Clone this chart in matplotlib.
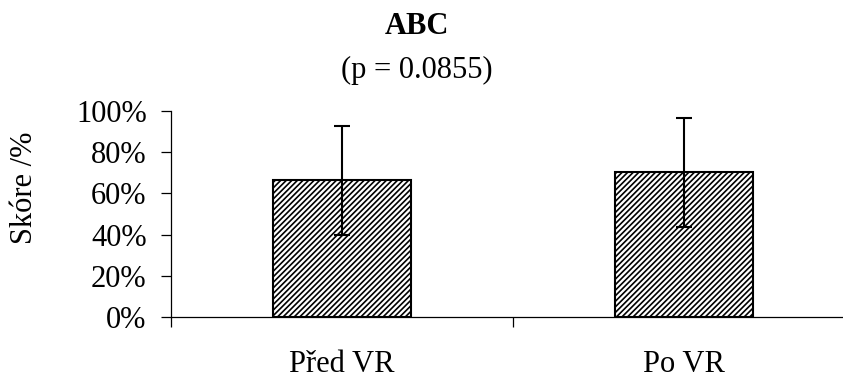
import matplotlib.pyplot as plt
import numpy as np
from matplotlib.ticker import PercentFormatter, FixedLocator

# Data
categories = ["Před VR", "Po VR"]
values = [66.3, 70.2]
errors = [26.5, 26.3]
yticks = [0, 20, 40, 60, 80, 100]

plt.rcParams['font.family'] = ['Liberation Serif', 'DejaVu Serif']
plt.rcParams['hatch.linewidth'] = 1.2

fig = plt.figure(figsize=(8.43, 3.79), dpi=100)
ax = fig.add_axes([171/843, 62/379, 684/843, 206/379])

x = np.arange(len(categories))
ax.bar(x, values, width=0.405, color='white', edgecolor='black',
       linewidth=1.5, hatch='//////')
ax.errorbar(x, values, yerr=errors, fmt='none', ecolor='black',
            elinewidth=1.5, capsize=5.5, capthick=1.5)

ax.set_xlim(-0.5, len(categories) - 0.5)
ax.set_ylim(0, 100)
ax.set_yticks(yticks)
ax.yaxis.set_major_formatter(PercentFormatter(decimals=0))
ax.set_xticks(x)
ax.set_xticklabels(categories)
ax.xaxis.set_minor_locator(FixedLocator(np.arange(-0.5, len(categories), 1.0)))

ax.tick_params(axis='x', which='major', length=0, pad=24, labelsize=22)
ax.tick_params(axis='x', which='minor', length=7, width=0.9, direction='out')
ax.tick_params(axis='y', length=7, width=0.9, labelsize=22, pad=10.5)

for side in ['top', 'right']:
    ax.spines[side].set_visible(False)
ax.spines['left'].set_linewidth(0.9)
ax.spines['bottom'].set_linewidth(0.9)

# y label sits a bit above the axis centre in the original
fig.text(25/843, 1 - 188/379, "Skóre /%", rotation=90, ha='center', va='center', fontsize=22)

fig.text(417/843, 1 - 26/379, "ABC", ha='center', va='center', fontsize=22, fontweight='bold')
fig.text(417/843, 1 - 70/379, "(p = 0.0855)", ha='center', va='center', fontsize=22)

plt.savefig("out.png", dpi=100)
